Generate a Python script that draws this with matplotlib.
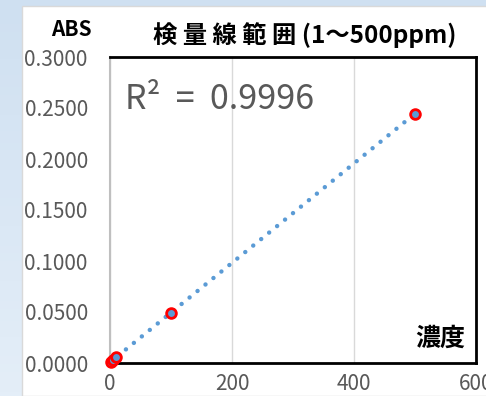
import numpy as np
import matplotlib
matplotlib.use('Agg')
import matplotlib.pyplot as plt
from matplotlib.patches import Rectangle

plt.rcParams['font.family'] = ['Noto Sans CJK JP', 'DejaVu Sans']

# measured standards
conc = [1, 5, 10, 100, 500]
absorb = [0.0006, 0.0030, 0.0062, 0.0492, 0.2445]

xticks = [0, 200, 400, 600]
yticks = [0.0, 0.05, 0.10, 0.15, 0.20, 0.25, 0.30]
ytick_labels = ['0.0000', '0.0500', '0.1000', '0.1500', '0.2000', '0.2500', '0.3000']

title = '検 量 線 範 囲 (1～500ppm)'
r2_text = 'R²  =  0.9996'

# linear trendline (Excel style)
slope, icpt = np.polyfit(conc, absorb, 1)
tx = np.array([0, 500])
ty = slope * tx + icpt

fig = plt.figure(figsize=(4.86, 3.96), dpi=100)

# background gradient + white chart area
bg = fig.add_axes([0, 0, 1, 1], zorder=-10)
grad = np.linspace(0, 1, 100).reshape(-1, 1)
bg.imshow(grad, aspect='auto', extent=[0, 1, 0, 1],
          cmap=matplotlib.colors.LinearSegmentedColormap.from_list('bg', ['#cfe0f1', '#e4eef8']))
bg.add_patch(Rectangle((22/486, 0), 1, 1 - 6/396, facecolor='white',
                       edgecolor='#d9d9d9', linewidth=1))
bg.set_xlim(0, 1)
bg.set_ylim(0, 1)
bg.axis('off')

ax = fig.add_axes([110/486, 33/396, 366/486, 306/396])
ax.plot(tx, ty, color='#5b9bd5', linewidth=3.2,
        linestyle=(0, (0.01, 2.3)), dash_capstyle='round', zorder=2)
ax.plot(conc, absorb, 'o', markersize=7, markerfacecolor='#5b9bd5',
        markeredgecolor='#ff0000', markeredgewidth=2, zorder=3, clip_on=False)

ax.set_xlim(0, 600)
ax.set_ylim(0, 0.3)
ax.set_xticks(xticks)
ax.set_yticks(yticks)
ax.set_yticklabels(ytick_labels)
ax.tick_params(length=0, labelsize=15, labelcolor='#595959')
ax.tick_params(axis='x', pad=7)
ax.tick_params(axis='y', pad=16)
ax.xaxis.grid(True, color='#d9d9d9', linewidth=1)
ax.set_axisbelow(True)
for s in ['top', 'right', 'bottom']:
    ax.spines[s].set_color('black')
    ax.spines[s].set_linewidth(2)
ax.spines['left'].set_color('#bfbfbf')
ax.spines['left'].set_linewidth(1.5)

ax.text(0.04, 0.86, r2_text, transform=ax.transAxes, fontsize=24.5,
        color='#595959', va='center', ha='left')
ax.text(0.97, 0.08, '濃度', transform=ax.transAxes, fontsize=18,
        fontweight='bold', ha='right', va='center')
fig.text(305/486, 1 - 35/396, title, fontsize=17.5, fontweight='bold',
         ha='center', va='center')
fig.text(71/486, 1 - 30/396, 'ABS', fontsize=15, fontweight='bold',
         ha='center', va='center')

fig.savefig('out.png', dpi=100)
